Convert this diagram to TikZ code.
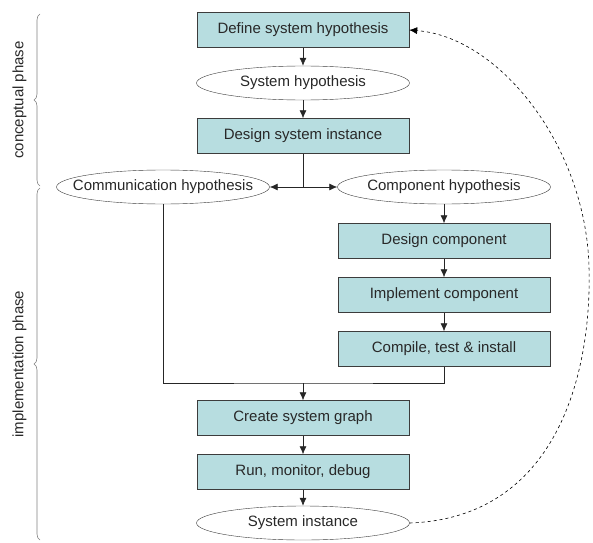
\documentclass[tikz,border=0pt]{standalone}
\usepackage{fontspec}
\setmainfont{Liberation Sans}
\usetikzlibrary{shapes.geometric,arrows.meta,decorations.pathreplacing}

\definecolor{boxfill}{RGB}{183,221,224}
\definecolor{edgegray}{RGB}{60,60,60}
\definecolor{textgray}{RGB}{40,40,40}

\tikzset{
  stepbox/.style={draw=edgegray, fill=boxfill, minimum width=212pt, minimum height=35pt,
    inner sep=0pt, text=textgray, font=\fontsize{15}{18}\selectfont},
  dataell/.style={draw=edgegray, fill=white, ellipse, minimum width=213pt, minimum height=34pt,
    inner xsep=-17pt, inner ysep=0pt, text=textgray, font=\fontsize{15}{18}\selectfont},
  flow/.style={-{Latex[length=8pt,width=7pt]}, black!85, semithick},
  phase/.style={decorate, decoration={brace, amplitude=6pt}, gray, semithick},
  loopback/.style={-{Latex[length=8pt,width=7pt]}, dashed, semithick}
}

\begin{document}
\begin{tikzpicture}[x=1pt,y=1pt]
    \useasboundingbox (0,0) rectangle (593,542);

    % main column
    \node[stepbox] (define) at (303,512) {Define system hypothesis};
    \node[dataell] (syshyp) at (303,459) {System hypothesis};
    \node[stepbox] (design) at (303,406) {Design system instance};
    \node[dataell] (comm) at (163,355) {Communication hypothesis};
    \node[dataell] (comp) at (444,355) {Component hypothesis};

    % component branch
    \node[stepbox] (descomp) at (444,301) {Design component};
    \node[stepbox] (implcomp) at (444,247) {Implement component};
    \node[stepbox] (compile) at (444,193) {Compile, test \& install};

    \node[stepbox] (graph) at (303,124) {Create system graph};
    \node[stepbox] (run) at (303,70) {Run, monitor, debug};
    \node[dataell] (inst) at (303,19) {System instance};

    \draw[flow] (define) -- (syshyp);
    \draw[flow] (syshyp) -- (design);

    \coordinate (split) at (design.south |- comm.east);
    \draw[black!85, semithick] (design.south) -- (split);
    \draw[flow] (split) -- (comm.east);
    \draw[flow] (split) -- (comp.west);

    \draw[flow] (comp) -- (descomp);
    \draw[flow] (descomp) -- (implcomp);
    \draw[flow] (implcomp) -- (compile);

    \coordinate (merge) at (303,159);
    \draw[black!85, semithick] (comm.south) |- (merge) -| (compile.south);
    \draw[flow] (merge) -- (graph.north);
    \draw[flow] (graph) -- (run);
    \draw[flow] (run) -- (inst);

    % feedback loop
    \coordinate (far) at (589,275);
    \draw[loopback] (inst.east) .. controls (555,24) and (592,165) .. (far)
        .. controls (586,395) and (500,505) .. (define.east);

    % phases
    \draw[phase] (40,356) -- (40,528) node[midway, left=10pt, rotate=90, anchor=south,
        text=textgray, font=\fontsize{15}{18}\selectfont] {conceptual phase};
    \draw[phase] (40,2) -- (40,354) node[midway, left=10pt, rotate=90, anchor=south,
        text=textgray, font=\fontsize{15}{18}\selectfont] {implementation phase};
\end{tikzpicture}
\end{document}
